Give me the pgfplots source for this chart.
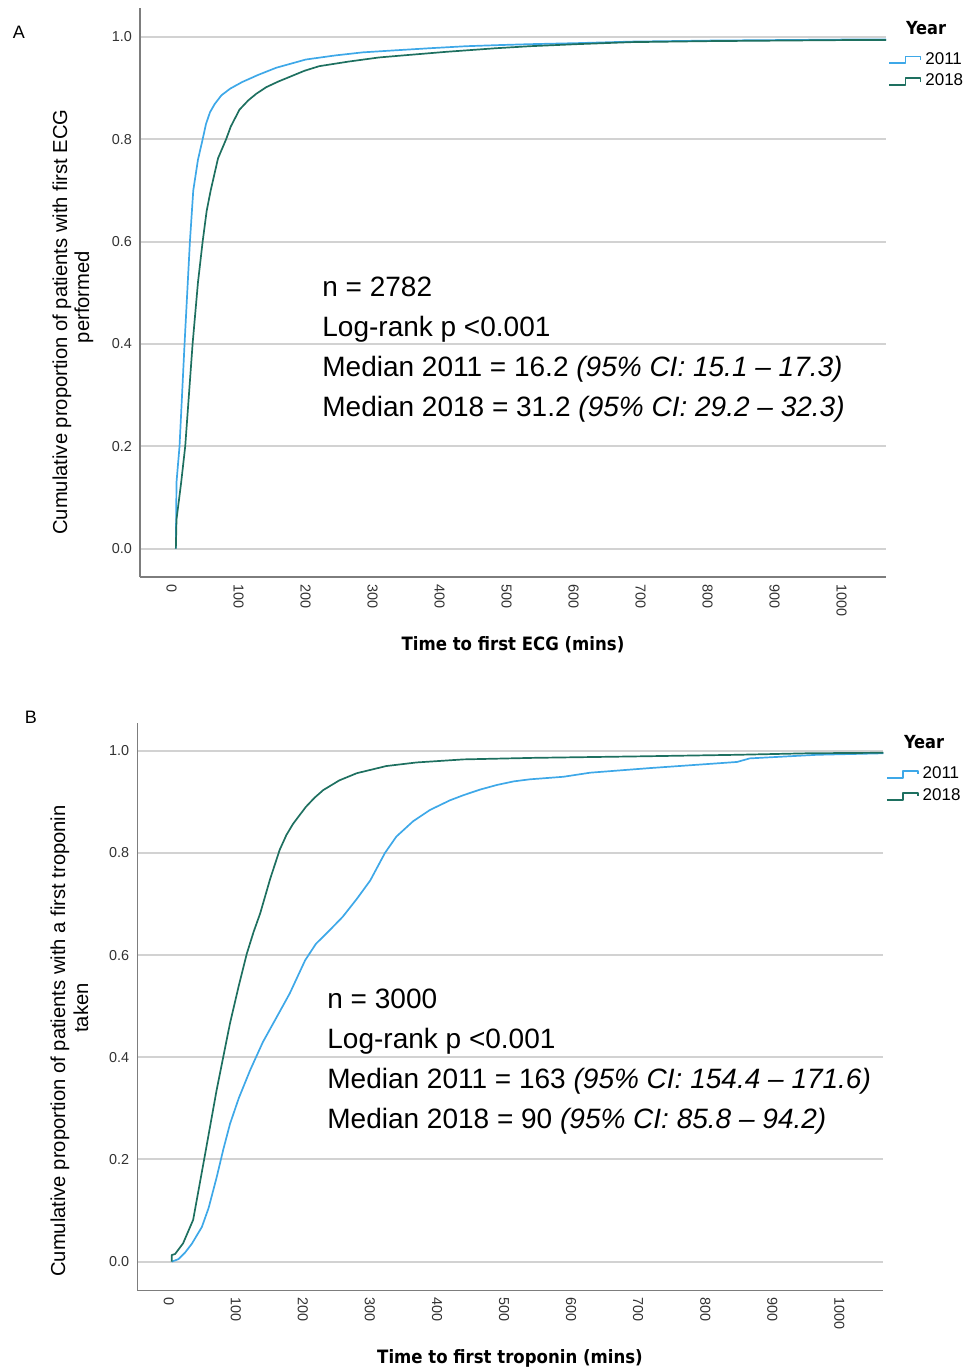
\documentclass[border=0pt]{standalone}
\usepackage{fontspec}
\setmainfont{Liberation Sans}
\newfontfamily\lblfont{DejaVu Sans Condensed}
\usepackage{pgfplots}
\pgfplotsset{compat=1.18}
\definecolor{c2011}{RGB}{62,168,232}
\definecolor{c2018}{RGB}{30,112,96}
\definecolor{gridc}{RGB}{210,210,210}
\definecolor{axc}{RGB}{125,125,125}
\definecolor{tickc}{RGB}{50,50,50}

\pgfplotsset{kmstyle/.style={
 scale only axis, width=373pt,
 axis x line=bottom, axis y line=left,
 axis line style={-, draw=axc, line width=0.75pt},
 xtick={0,100,200,300,400,500,600,700,800,900,1000},
 ytick={0,0.2,0.4,0.6,0.8,1.0},
 yticklabel style={/tikz/xshift=-0.5pt, /pgf/number format/fixed, /pgf/number format/fixed zerofill, /pgf/number format/precision=1},
 /pgf/number format/1000 sep={},
 /pgf/number format/assume math mode=true,
 major tick length=0pt,
 ymajorgrids, grid style={draw=gridc, line width=1pt},
 tick label style={font=\fontsize{7.2}{8}\selectfont, text=tickc},
 xticklabel style={rotate=-90, anchor=west, yshift=-1.5pt},
 legend image code/.code={\draw[##1] (0pt,-1.8pt) -- (8pt,-1.8pt) -- (8pt,1.6pt) -- (15.5pt,1.6pt) -- (15.5pt,0pt);},
 legend style={draw=none, fill=none, font=\fontsize{8.5}{10}\selectfont, inner sep=0pt, row sep=-0.5pt,
   /tikz/every even column/.append style={column sep=1.5pt}},
 legend cell align=left,
 every axis plot/.append style={line width=0.85pt, line join=round},
}}

\begin{document}
\begin{tikzpicture}
\path[use as bounding box] (0,0) rectangle (481.5pt,-685.5pt);

% ---------------- Panel A ----------------
\begin{axis}[kmstyle, at={(70pt,-288.5pt)}, anchor=south west, height=284.5pt,
  xmin=-51.5, xmax=1062, ymin=-0.0555, ymax=1.0567,
  legend style={at={(1.003,0.93)}, anchor=north west}]
\addplot[c2011] coordinates {
(2,0) (3,0.13) (7.5,0.2) (15,0.4) (23,0.6) (28,0.7) (35,0.76) (42,0.8) (47,0.83) (53,0.853)
(60,0.869) (70,0.886) (83,0.899) (101,0.912) (125,0.926) (152,0.940) (196,0.956) (240,0.964) (281,0.970)
(330,0.974) (380,0.978) (435,0.982) (479,0.984) (530,0.986) (600,0.988) (682,0.991) (800,0.993)
(900,0.994) (1000,0.995) (1062,0.995)};
\addlegendentry{2011}
\addplot[c2018] coordinates {
(2,0) (3,0.057) (10,0.13) (16,0.2) (27,0.4) (35,0.52) (42,0.6) (48,0.66) (54,0.7) (65,0.763) (77,0.8)
(84,0.825) (97,0.858) (110,0.876) (122,0.889) (137,0.902) (155,0.913) (194,0.934) (216,0.943) (260,0.952) (305,0.960) (350,0.965)
(405,0.971) (479,0.978) (530,0.982) (600,0.986) (682,0.990) (800,0.992) (900,0.993) (1000,0.994)
(1062,0.994)};
\addlegendentry{2018}
\end{axis}

% ---------------- Panel B ----------------
\begin{axis}[kmstyle, at={(68.65pt,-645.35pt)}, anchor=south west, height=284pt,
  xmin=-51.3, xmax=1061, ymin=-0.0568, ymax=1.0548,
  legend style={at={(1.003,0.93)}, anchor=north west}]
\addplot[c2011] coordinates {
(0,0) (10,0.005) (20,0.018) (30,0.035) (45,0.068) (55,0.105) (67,0.165) (77,0.22) (87,0.27)
(100,0.32) (117,0.375) (136,0.43) (155,0.475) (176,0.525) (199,0.59) (215,0.622) (235,0.648)
(255,0.675) (276,0.71) (296,0.746) (318,0.80) (335,0.832) (360,0.862) (385,0.884) (415,0.903)
(435,0.913) (460,0.924) (485,0.933) (510,0.940) (534,0.944) (584,0.949) (624,0.957)
(713,0.966) (843,0.978) (862,0.985) (962,0.992) (1062,0.995)};
\addlegendentry{2011}
\addplot[c2018] coordinates {
(0,0) (0,0.013) (5,0.015) (17,0.036) (32,0.082) (50,0.212) (67,0.336) (87,0.467) (100,0.54) (112,0.603)
(122,0.645) (132,0.682) (147,0.75) (161,0.806) (171,0.835) (181,0.857) (200,0.89) (213,0.908) (226,0.923)
(250,0.942) (276,0.956) (320,0.970)
(365,0.977) (435,0.983) (539,0.986) (700,0.989) (843,0.992) (950,0.995) (1062,0.996)};
\addlegendentry{2018}
\end{axis}

% ---------------- Texts ----------------
\begin{scope}[x=0.5pt,y=-0.5pt]
\node[font=\fontsize{9}{10}\selectfont] at (19,32) {A};
\node[font=\fontsize{9}{10}\selectfont] at (31,717) {B};

\node[rotate=90, font=\fontsize{10.1}{11}\selectfont] at (62,322) {Cumulative proportion of patients with first ECG};
\node[rotate=90, font=\fontsize{10.1}{11}\selectfont] at (84,297) {performed};
\node[rotate=90, font=\fontsize{10.1}{11}\selectfont] at (60,1041) {Cumulative proportion of patients with a first troponin};
\node[rotate=90, font=\fontsize{10.1}{11}\selectfont] at (81,1008) {taken};

\node[font=\lblfont\bfseries\fontsize{9.2}{10}\selectfont] at (513,645) {Time to first ECG (mins)};
\node[font=\lblfont\bfseries\fontsize{9.2}{10}\selectfont] at (510,1358) {Time to first troponin (mins)};

\node[font=\lblfont\bfseries\fontsize{9}{10}\selectfont] at (926,28) {Year};
\node[font=\lblfont\bfseries\fontsize{9}{10}\selectfont] at (924,742) {Year};

\begin{scope}[every node/.style={anchor=base west, inner sep=0pt, font=\fontsize{14}{16}\selectfont}]
\node at (322,296) {n = 2782};
\node at (322,336) {Log-rank p <0.001};
\node at (322,376) {Median 2011 = 16.2 \textit{(95\% CI: 15.1 – 17.3)}};
\node at (322,416) {Median 2018 = 31.2 \textit{(95\% CI: 29.2 – 32.3)}};
\node at (327,1008) {n = 3000};
\node at (327,1048) {Log-rank p <0.001};
\node at (327,1088) {Median 2011 = 163 \textit{(95\% CI: 154.4 – 171.6)}};
\node at (327,1128) {Median 2018 = 90 \textit{(95\% CI: 85.8 – 94.2)}};
\end{scope}
\end{scope}
\end{tikzpicture}
\end{document}
